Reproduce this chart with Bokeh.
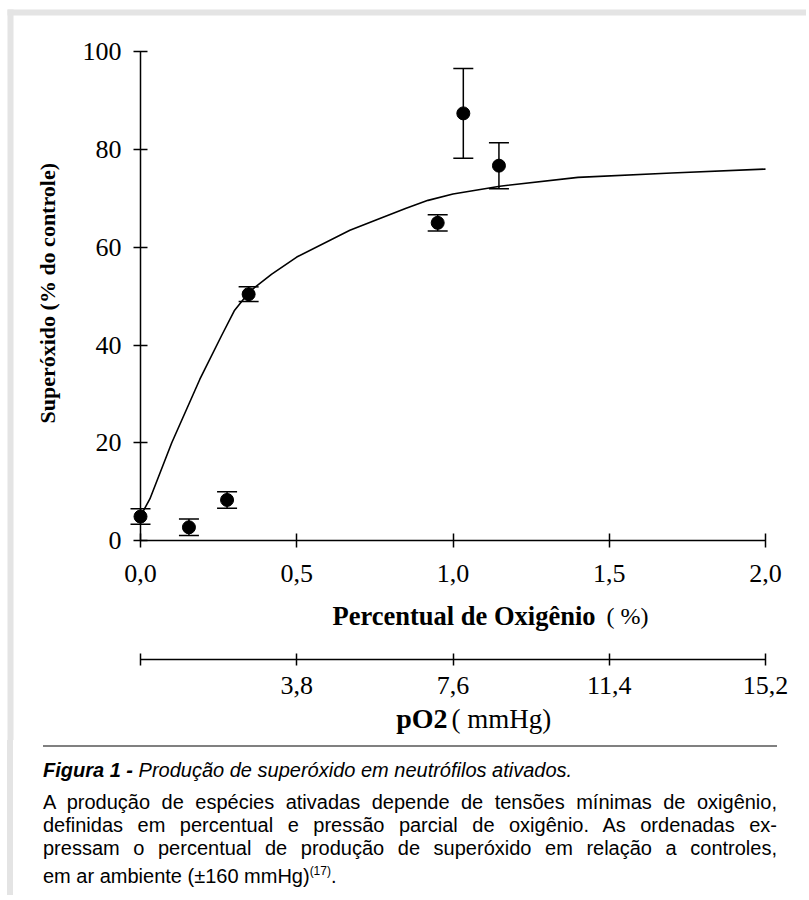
from math import pi
from bokeh.plotting import figure
from bokeh.layouts import column
from bokeh.models import (Range1d, LinearAxis, FixedTicker, CustomJSTickFormatter,
                          Whisker, TeeHead, ColumnDataSource, Label, BoxAnnotation, Div)
from bokeh.embed import file_html
from bokeh.resources import INLINE

# ---------------- data ----------------
o2_pct = [0.0, 0.155, 0.277, 0.346, 0.951, 1.033, 1.147]
superoxide = [4.9, 2.7, 8.3, 50.4, 65.0, 87.4, 76.7]
sem = [1.6, 1.7, 1.7, 1.5, 1.65, 9.2, 4.7]

fit_x = [0.0, 0.03, 0.1, 0.19, 0.26, 0.3, 0.35, 0.42, 0.5, 0.67, 0.77, 0.85, 0.92, 1.0, 1.15, 1.4, 1.7, 2.0]
fit_y = [5.0, 8.5, 20.0, 33.0, 42.0, 47.0, 51.0, 54.5, 58.0, 63.5, 66.0, 68.0, 69.6, 70.9, 72.5, 74.3, 75.2, 76.0]

pct_ticks = [0.0, 0.5, 1.0, 1.5, 2.0]
sup_ticks = [0, 20, 40, 60, 80, 100]
po2_ticks = [0.0, 3.8, 7.6, 11.4, 15.2]
MMHG_PER_PCT = 7.6

y_title = "Superóxido  (% do controle)"
x_title_bold = "Percentual de Oxigênio"
x_title_unit = "( %)"
po2_title_bold = "pO2"
po2_title_unit = "( mmHg)"
caption_bold = "Figura 1 -"
caption_title = " Produção de superóxido em neutrófilos ativados."
caption_lines = [
    "A produção de espécies ativadas depende de tensões mínimas de oxigênio,",
    "definidas em percentual e pressão parcial de oxigênio. As ordenadas ex-",
    "pressam o percentual de produção de superóxido em relação a controles,",
]
caption_last = "em ar ambiente (±160 mmHg)"
caption_ref = "(17)"

# ---------------- layout helpers (page pixels -> data) ----------------
W, H = 806, 740          # figure covers page x 0..W, y 0..740
X0_PX, X_PX_PER_UNIT = 140.0, 312.5
Y0_PX, Y_PX_PER_UNIT = 540.0, 4.887


def X(px):
    return (px - X0_PX) / X_PX_PER_UNIT


def Y(py):
    return (Y0_PX - py) / Y_PX_PER_UNIT


p = figure(width=W, height=H,
           x_range=Range1d(X(0), X(W)), y_range=Range1d(Y(H), Y(0)),
           min_border=0, toolbar_location=None, output_backend="svg",
           x_axis_type=None, y_axis_type=None, outline_line_color=None,
           background_fill_color="white", border_fill_color="white")
p.extra_x_ranges = {"po2": Range1d(X(0) * MMHG_PER_PCT, X(W) * MMHG_PER_PCT)}

SERIF = "Liberation Serif"


def style_axis(ax):
    ax.axis_line_color = "black"
    ax.axis_line_width = 1.5
    ax.major_tick_line_color = "black"
    ax.major_tick_line_width = 1.5
    ax.major_tick_in = 7
    ax.major_tick_out = 7
    ax.minor_tick_line_color = None
    ax.major_label_text_font = SERIF
    ax.major_label_text_font_size = "26px"
    ax.major_label_text_color = "black"


yax = LinearAxis(fixed_location=0, bounds=(0, 100), ticker=FixedTicker(ticks=sup_ticks))
style_axis(yax)
yax.major_label_standoff = 12
p.add_layout(yax, "left")

fmt = CustomJSTickFormatter(code="return tick.toFixed(1).replace('.', ',');")
xax = LinearAxis(fixed_location=0, bounds=(0, 2), ticker=FixedTicker(ticks=pct_ticks), formatter=fmt)
style_axis(xax)
xax.major_label_standoff = 17
p.add_layout(xax, "below")

fmt2 = CustomJSTickFormatter(code="return tick == 0 ? '' : tick.toFixed(1).replace('.', ',');")
pax = LinearAxis(x_range_name="po2", fixed_location=Y(659), bounds=(0, 15.2),
                 ticker=FixedTicker(ticks=po2_ticks), formatter=fmt2)
style_axis(pax)
pax.major_tick_in = 6
pax.major_tick_out = 6
pax.major_label_standoff = 11
p.add_layout(pax, "below")

# ---------------- data marks ----------------
src = ColumnDataSource(dict(
    x=o2_pct, y=superoxide,
    lo=[v - e for v, e in zip(superoxide, sem)],
    hi=[v + e for v, e in zip(superoxide, sem)],
))
p.line(fit_x, fit_y, line_color="black", line_width=1.6)
p.add_layout(Whisker(source=src, base="x", upper="hi", lower="lo", dimension="height",
                     line_color="black", line_width=1.5,
                     upper_head=TeeHead(size=20, line_width=1.5, line_color="black"),
                     lower_head=TeeHead(size=20, line_width=1.5, line_color="black")))
p.scatter("x", "y", source=src, size=13, color="black")

# ---------------- titles ----------------
p.add_layout(Label(x=X(47), y=Y(290), text=y_title, angle=pi / 2,
                   text_align="center", text_baseline="middle", text_color="black",
                   text_font=SERIF, text_font_style="bold", text_font_size="22px"))
p.add_layout(Label(x=X(332), y=Y(615), text=x_title_bold, text_align="left", text_baseline="middle",
                   text_color="black", text_font=SERIF, text_font_style="bold", text_font_size="26.5px"))
p.add_layout(Label(x=X(606), y=Y(615), text=x_title_unit, text_align="left", text_baseline="middle",
                   text_color="black", text_font=SERIF, text_font_size="24px"))
p.add_layout(Label(x=X(447), y=Y(718), text=po2_title_bold, text_align="right", text_baseline="middle",
                   text_color="black", text_font=SERIF, text_font_style="bold", text_font_size="28px"))
p.add_layout(Label(x=X(451), y=Y(718), text=po2_title_unit, text_align="left", text_baseline="middle",
                   text_color="black", text_font=SERIF, text_font_size="27px"))

# ---------------- page frame (grey band) ----------------
BAND = "#e4e4e4"
p.add_layout(BoxAnnotation(left=X(7), right=X(W), top=Y(9), bottom=Y(15),
                           fill_color=BAND, fill_alpha=1, line_alpha=0))
p.add_layout(BoxAnnotation(left=X(7), right=X(13), top=Y(9), bottom=Y(H),
                           fill_color=BAND, fill_alpha=1, line_alpha=0))

# ---------------- caption ----------------
line_style = ("white-space:nowrap; text-align:justify; text-align-last:justify; "
              "height:23px; line-height:23px;")
body = "".join('<div style="%s">%s</div>' % (line_style, t) for t in caption_lines)
html = (
    '<div style="position:relative; margin-left:7px; width:790px; height:155px; border-left:6px solid %s; '
    'font-family:\'Liberation Sans\', Arial, sans-serif; font-size:20px; color:black;">' % BAND
    + '<div style="margin-left:30px; width:734px;">'
    + '<div style="height:5px;"></div>'
    + '<div style="height:2px; background:#808080;"></div>'
    + '<div style="margin-top:12px; height:23px; line-height:23px; white-space:nowrap;">'
    + '<b><i>%s</i></b><i>%s</i></div>' % (caption_bold, caption_title)
    + '<div style="height:9px;"></div>'
    + body
    + '<div style="height:23px; line-height:23px; white-space:nowrap;">%s'
      '<sup style="font-size:12px;">%s</sup>.</div>' % (caption_last, caption_ref)
    + '</div></div>'
)
div = Div(text=html, width=W, height=155, margin=(0, 0, 0, 0))

layout = column(p, div, spacing=0)
open("out.html", "w").write(file_html(layout, INLINE))
